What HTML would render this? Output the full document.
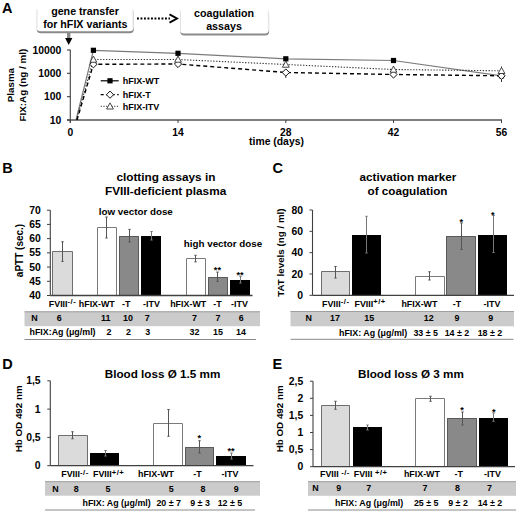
<!DOCTYPE html>
<html><head><meta charset="utf-8"><style>
html,body{margin:0;padding:0;background:#fff;}
svg{display:block;font-family:"Liberation Sans", sans-serif;}
text.t{}
</style></head><body>
<svg width="520" height="513" viewBox="0 0 520 513">
<defs><filter id="blur" x="-10%" y="-20%" width="120%" height="150%"><feGaussianBlur stdDeviation="0.6"/></filter></defs>
<rect width="520" height="513" fill="#fff"/>
<text x="2" y="13.2" font-size="14.5" text-anchor="start" font-weight="bold" fill="#000" >A</text>
<rect x="36.8" y="9" width="97.0" height="24.2" rx="4" fill="#8a8a8a" filter="url(#blur)"/>
<rect x="36.5" y="7" width="97.0" height="24.2" rx="4" fill="#fff"/>
<line x1="37.0" y1="9" x2="37.0" y2="28.2" stroke="#e2e2e2" stroke-width="1" />
<line x1="133.0" y1="9" x2="133.0" y2="28.2" stroke="#e6e6e6" stroke-width="1" />
<rect x="180.3" y="10.5" width="88.80000000000001" height="25.1" rx="4" fill="#8a8a8a" filter="url(#blur)"/>
<rect x="180" y="8.5" width="88.80000000000001" height="25.1" rx="4" fill="#fff"/>
<line x1="180.5" y1="10.5" x2="180.5" y2="30.6" stroke="#e2e2e2" stroke-width="1" />
<line x1="268.3" y1="10.5" x2="268.3" y2="30.6" stroke="#e6e6e6" stroke-width="1" />
<text x="85" y="14.9" font-size="10.7" text-anchor="middle" font-weight="bold" fill="#000" >gene transfer</text>
<text x="85.3" y="27.5" font-size="10.7" text-anchor="middle" font-weight="bold" fill="#000" >for hFIX variants</text>
<text x="224" y="16.9" font-size="10.7" text-anchor="middle" font-weight="bold" fill="#000" >coagulation</text>
<text x="224" y="29.8" font-size="10.7" text-anchor="middle" font-weight="bold" fill="#000" >assays</text>
<line x1="137" y1="18.5" x2="170" y2="18.5" stroke="#000" stroke-width="2" stroke-dasharray="1.9 1.6"/>
<polyline points="169.5,14.3 177,18.5 169.5,22.7" fill="none" stroke="#000" stroke-width="1.9"/>
<rect x="67.0" y="32.3" width="3.4" height="6" fill="#8a8a8a" stroke="none" stroke-width="1" />
<polygon points="65.1,38 72.4,38 68.7,45" fill="#000"/>
<line x1="70.3" y1="49.8" x2="70.3" y2="123" stroke="#404040" stroke-width="1.1" />
<line x1="67" y1="120" x2="502" y2="120" stroke="#555" stroke-width="1.3" />
<line x1="67" y1="120" x2="70.3" y2="120" stroke="#404040" stroke-width="1.1" />
<text x="61.3" y="123.8" font-size="10.4" text-anchor="end" font-weight="bold" fill="#000" >10</text>
<line x1="67" y1="96.67" x2="70.3" y2="96.67" stroke="#404040" stroke-width="1.1" />
<text x="61.3" y="100.47" font-size="10.4" text-anchor="end" font-weight="bold" fill="#000" >100</text>
<line x1="67" y1="73.33" x2="70.3" y2="73.33" stroke="#404040" stroke-width="1.1" />
<text x="61.3" y="77.13" font-size="10.4" text-anchor="end" font-weight="bold" fill="#000" >1000</text>
<line x1="67" y1="50" x2="70.3" y2="50" stroke="#404040" stroke-width="1.1" />
<text x="61.3" y="53.8" font-size="10.4" text-anchor="end" font-weight="bold" fill="#000" >10000</text>
<line x1="70.3" y1="120" x2="70.3" y2="123" stroke="#404040" stroke-width="1" />
<text x="70.3" y="135.9" font-size="10.3" text-anchor="middle" font-weight="bold" fill="#000" >0</text>
<line x1="178" y1="120" x2="178" y2="123" stroke="#404040" stroke-width="1" />
<text x="178" y="135.9" font-size="10.3" text-anchor="middle" font-weight="bold" fill="#000" >14</text>
<line x1="285.8" y1="120" x2="285.8" y2="123" stroke="#404040" stroke-width="1" />
<text x="285.8" y="135.9" font-size="10.3" text-anchor="middle" font-weight="bold" fill="#000" >28</text>
<line x1="393.5" y1="120" x2="393.5" y2="123" stroke="#404040" stroke-width="1" />
<text x="393.5" y="135.9" font-size="10.3" text-anchor="middle" font-weight="bold" fill="#000" >42</text>
<line x1="501.5" y1="120" x2="501.5" y2="123" stroke="#404040" stroke-width="1" />
<text x="501.5" y="135.9" font-size="10.3" text-anchor="middle" font-weight="bold" fill="#000" >56</text>
<text x="276.5" y="145.3" font-size="10.4" text-anchor="middle" font-weight="bold" fill="#000" >time (days)</text>
<text transform="translate(13.9,85.1) rotate(-90)" font-size="9.8" font-weight="bold" text-anchor="middle">Plasma</text>
<text transform="translate(25.8,85.1) rotate(-90)" font-size="9.9" font-weight="bold" text-anchor="middle">FIX:Ag (ng / ml)</text>
<polyline points="76,120 93.4,50.3 178,53.3 285.8,58.8 393.5,60.5 501.5,75.8" fill="none" stroke="#7a7a7a" stroke-width="1.2"/>
<polyline points="76.5,120 93.4,59.5 178,59.5 285.8,64.5 393.5,69.5 501.5,70.8" fill="none" stroke="#333" stroke-width="1.1" stroke-dasharray="1.3 1.6"/>
<polyline points="77,120 93.4,64.3 178,64.0 285.8,72.5 393.5,74.5 501.5,75.8" fill="none" stroke="#000" stroke-width="1.4" stroke-dasharray="4 3"/>
<line x1="501.5" y1="66.5" x2="501.5" y2="71" stroke="#333" stroke-width="1" />
<line x1="501.5" y1="76" x2="501.5" y2="82" stroke="#333" stroke-width="1" />
<line x1="285.8" y1="72" x2="285.8" y2="78" stroke="#333" stroke-width="1" />
<line x1="393.5" y1="66" x2="393.5" y2="70" stroke="#333" stroke-width="1" />
<line x1="178" y1="56" x2="178" y2="60" stroke="#333" stroke-width="1" />
<rect x="90.80000000000001" y="47.699999999999996" width="5.2" height="5.2" fill="#000" stroke="none" stroke-width="1" />
<rect x="175.4" y="50.699999999999996" width="5.2" height="5.2" fill="#000" stroke="none" stroke-width="1" />
<rect x="283.2" y="56.199999999999996" width="5.2" height="5.2" fill="#000" stroke="none" stroke-width="1" />
<rect x="390.9" y="57.9" width="5.2" height="5.2" fill="#000" stroke="none" stroke-width="1" />
<rect x="498.9" y="73.2" width="5.2" height="5.2" fill="#000" stroke="none" stroke-width="1" />
<polygon points="93.4,60.699999999999996 97.0,64.3 93.4,67.89999999999999 89.80000000000001,64.3" fill="#fff" stroke="#111" stroke-width="1"/>
<polygon points="178,60.4 181.6,64.0 178,67.6 174.4,64.0" fill="#fff" stroke="#111" stroke-width="1"/>
<polygon points="285.8,68.9 289.40000000000003,72.5 285.8,76.1 282.2,72.5" fill="#fff" stroke="#111" stroke-width="1"/>
<polygon points="393.5,70.9 397.1,74.5 393.5,78.1 389.9,74.5" fill="#fff" stroke="#111" stroke-width="1"/>
<polygon points="501.5,72.2 505.1,75.8 501.5,79.39999999999999 497.9,75.8" fill="#fff" stroke="#111" stroke-width="1"/>
<polygon points="93.4,56.1 96.80000000000001,62.22 90.0,62.22" fill="#fff" stroke="#333" stroke-width="0.9"/>
<polygon points="178,56.1 181.4,62.22 174.6,62.22" fill="#fff" stroke="#333" stroke-width="0.9"/>
<polygon points="285.8,61.1 289.2,67.22 282.40000000000003,67.22" fill="#fff" stroke="#333" stroke-width="0.9"/>
<polygon points="393.5,66.1 396.9,72.22 390.1,72.22" fill="#fff" stroke="#333" stroke-width="0.9"/>
<polygon points="501.5,67.39999999999999 504.9,73.52 498.1,73.52" fill="#fff" stroke="#333" stroke-width="0.9"/>
<line x1="100.7" y1="80.8" x2="118.7" y2="80.8" stroke="#000" stroke-width="1.2" />
<rect x="107.4" y="78.2" width="5.2" height="5.2" fill="#000" stroke="none" stroke-width="1" />
<line x1="100.7" y1="94.7" x2="118.7" y2="94.7" stroke="#000" stroke-width="1.2" stroke-dasharray="3 2.5"/>
<polygon points="110,91.10000000000001 113.6,94.7 110,98.3 106.4,94.7" fill="#fff" stroke="#111" stroke-width="1"/>
<line x1="100.7" y1="106.3" x2="118.7" y2="106.3" stroke="#333" stroke-width="1" stroke-dasharray="1.2 1.5"/>
<polygon points="110,102.89999999999999 113.4,109.02 106.6,109.02" fill="#fff" stroke="#333" stroke-width="0.9"/>
<text x="122.7" y="84.4" font-size="9" text-anchor="start" font-weight="bold" fill="#000" >hFIX-WT</text>
<text x="122.7" y="98.3" font-size="9" text-anchor="start" font-weight="bold" fill="#000" >hFIX-T</text>
<text x="122.7" y="109.9" font-size="9" text-anchor="start" font-weight="bold" fill="#000" >hFIX-ITV</text>
<text x="2.3" y="173.2" font-size="14.5" text-anchor="start" font-weight="bold" fill="#000" >B</text>
<text class="t" x="165.9" y="181.1" font-size="11.8" text-anchor="middle" font-weight="bold" fill="#000" >clotting assays in</text>
<text class="t" x="165.6" y="195.4" font-size="11.8" text-anchor="middle" font-weight="bold" fill="#000" >FVIII-deficient plasma</text>
<line x1="50.3" y1="210.2" x2="50.3" y2="295.5" stroke="#404040" stroke-width="1.1" />
<line x1="47" y1="295.5" x2="50.3" y2="295.5" stroke="#404040" stroke-width="1" />
<text x="40.8" y="299.1" font-size="10.4" text-anchor="end" font-weight="bold" fill="#000" >40</text>
<line x1="47" y1="281.2833333333333" x2="50.3" y2="281.2833333333333" stroke="#404040" stroke-width="1" />
<text x="40.8" y="284.8833333333333" font-size="10.4" text-anchor="end" font-weight="bold" fill="#000" >45</text>
<line x1="47" y1="267.06666666666666" x2="50.3" y2="267.06666666666666" stroke="#404040" stroke-width="1" />
<text x="40.8" y="270.6666666666667" font-size="10.4" text-anchor="end" font-weight="bold" fill="#000" >50</text>
<line x1="47" y1="252.85" x2="50.3" y2="252.85" stroke="#404040" stroke-width="1" />
<text x="40.8" y="256.45" font-size="10.4" text-anchor="end" font-weight="bold" fill="#000" >55</text>
<line x1="47" y1="238.63333333333333" x2="50.3" y2="238.63333333333333" stroke="#404040" stroke-width="1" />
<text x="40.8" y="242.23333333333332" font-size="10.4" text-anchor="end" font-weight="bold" fill="#000" >60</text>
<line x1="47" y1="224.41666666666666" x2="50.3" y2="224.41666666666666" stroke="#404040" stroke-width="1" />
<text x="40.8" y="228.01666666666665" font-size="10.4" text-anchor="end" font-weight="bold" fill="#000" >65</text>
<line x1="47" y1="210.2" x2="50.3" y2="210.2" stroke="#404040" stroke-width="1" />
<text x="40.8" y="213.79999999999998" font-size="10.4" text-anchor="end" font-weight="bold" fill="#000" >70</text>
<text transform="translate(23.4,250.5) rotate(-90)" font-size="10" font-weight="bold" text-anchor="middle">aPTT (sec.)</text>
<rect x="52" y="251" width="21" height="44.5" fill="#dbdbdb" stroke="none" stroke-width="1" />
<path d="M52.5,295.5 V251.5 H72.5 V295.5" fill="none" stroke="#6e6e6e" stroke-width="1"/>
<line x1="62.5" y1="241.75" x2="62.5" y2="261.4" stroke="#555" stroke-width="1" />
<line x1="61.3" y1="241.75" x2="63.7" y2="241.75" stroke="#555" stroke-width="1" />
<line x1="61.3" y1="261.4" x2="63.7" y2="261.4" stroke="#555" stroke-width="1" />
<rect x="97" y="227" width="20" height="68.5" fill="#fff" stroke="none" stroke-width="1" />
<path d="M97.5,295.5 V227.5 H116.5 V295.5" fill="none" stroke="#7a7a7a" stroke-width="1"/>
<line x1="106.5" y1="217" x2="106.5" y2="238" stroke="#555" stroke-width="1" />
<line x1="105.3" y1="217" x2="107.7" y2="217" stroke="#555" stroke-width="1" />
<line x1="105.3" y1="238" x2="107.7" y2="238" stroke="#555" stroke-width="1" />
<rect x="119" y="236" width="20" height="59.5" fill="#898989" stroke="none" stroke-width="1" />
<path d="M119.5,295.5 V236.5 H138.5 V295.5" fill="none" stroke="#5a5a5a" stroke-width="1"/>
<line x1="129.5" y1="229.4" x2="129.5" y2="242" stroke="#555" stroke-width="1" />
<line x1="128.3" y1="229.4" x2="130.7" y2="229.4" stroke="#555" stroke-width="1" />
<line x1="128.3" y1="242" x2="130.7" y2="242" stroke="#555" stroke-width="1" />
<rect x="141" y="236" width="20" height="59.5" fill="#000" stroke="none" stroke-width="1" />
<line x1="151.5" y1="231.5" x2="151.5" y2="240" stroke="#777" stroke-width="1" />
<line x1="150.3" y1="231.5" x2="152.7" y2="231.5" stroke="#777" stroke-width="1" />
<line x1="150.3" y1="240" x2="152.7" y2="240" stroke="#777" stroke-width="1" />
<rect x="186" y="258" width="20" height="37.5" fill="#fff" stroke="none" stroke-width="1" />
<path d="M186.5,295.5 V258.5 H205.5 V295.5" fill="none" stroke="#7a7a7a" stroke-width="1"/>
<line x1="195.5" y1="255.3" x2="195.5" y2="261.9" stroke="#555" stroke-width="1" />
<line x1="194.3" y1="255.3" x2="196.7" y2="255.3" stroke="#555" stroke-width="1" />
<line x1="194.3" y1="261.9" x2="196.7" y2="261.9" stroke="#555" stroke-width="1" />
<rect x="208" y="277" width="20" height="18.5" fill="#898989" stroke="none" stroke-width="1" />
<path d="M208.5,295.5 V277.5 H227.5 V295.5" fill="none" stroke="#5a5a5a" stroke-width="1"/>
<line x1="217.5" y1="272.1" x2="217.5" y2="281.3" stroke="#555" stroke-width="1" />
<line x1="216.3" y1="272.1" x2="218.7" y2="272.1" stroke="#555" stroke-width="1" />
<line x1="216.3" y1="281.3" x2="218.7" y2="281.3" stroke="#555" stroke-width="1" />
<rect x="230" y="280" width="20" height="15.5" fill="#000" stroke="none" stroke-width="1" />
<line x1="240.5" y1="276.4" x2="240.5" y2="283" stroke="#777" stroke-width="1" />
<line x1="239.3" y1="276.4" x2="241.7" y2="276.4" stroke="#777" stroke-width="1" />
<line x1="239.3" y1="283" x2="241.7" y2="283" stroke="#777" stroke-width="1" />
<text x="217.4" y="273.0" font-size="9.2" text-anchor="middle" font-weight="bold" fill="#000" >**</text>
<text x="240" y="277.5" font-size="9.2" text-anchor="middle" font-weight="bold" fill="#000" >**</text>
<line x1="50.3" y1="295.5" x2="252.5" y2="295.5" stroke="#404040" stroke-width="1.3" />
<text x="98.75" y="214.5" font-size="9.8" text-anchor="start" font-weight="bold" fill="#000" >low vector dose</text>
<text x="183.8" y="246.8" font-size="9.8" text-anchor="start" font-weight="bold" fill="#000" >high vector dose</text>
<text x="48.8" y="306.8" font-size="8.9" font-weight="bold">FVIII<tspan dy="-2.6" font-size="7.6" letter-spacing="0.5">-/-</tspan></text>
<text x="96.8" y="306.8" font-size="8.9" text-anchor="middle" font-weight="bold" fill="#000" >hFIX-WT</text>
<text x="126.2" y="306.8" font-size="8.9" text-anchor="middle" font-weight="bold" fill="#000" >-T</text>
<text x="151.5" y="306.8" font-size="8.9" text-anchor="middle" font-weight="bold" fill="#000" >-ITV</text>
<text x="188.2" y="306.8" font-size="8.9" text-anchor="middle" font-weight="bold" fill="#000" >hFIX-WT</text>
<text x="217.5" y="306.8" font-size="8.9" text-anchor="middle" font-weight="bold" fill="#000" >-T</text>
<text x="239.5" y="306.8" font-size="8.9" text-anchor="middle" font-weight="bold" fill="#000" >-ITV</text>
<rect x="24.5" y="311.3" width="235.5" height="14.9" fill="#cbcbcb" stroke="none" stroke-width="1" />
<line x1="24.5" y1="311.8" x2="260" y2="311.8" stroke="#a0a0a0" stroke-width="1" />
<text x="34.5" y="321.2" font-size="8.9" text-anchor="middle" font-weight="bold" fill="#000" >N</text>
<text x="59.3" y="321.2" font-size="8.9" text-anchor="middle" font-weight="bold" fill="#000" >6</text>
<text x="105.8" y="321.2" font-size="8.9" text-anchor="middle" font-weight="bold" fill="#000" >11</text>
<text x="127.9" y="321.2" font-size="8.9" text-anchor="middle" font-weight="bold" fill="#000" >10</text>
<text x="147.1" y="321.2" font-size="8.9" text-anchor="middle" font-weight="bold" fill="#000" >7</text>
<text x="194.5" y="321.2" font-size="8.9" text-anchor="middle" font-weight="bold" fill="#000" >7</text>
<text x="218" y="321.2" font-size="8.9" text-anchor="middle" font-weight="bold" fill="#000" >7</text>
<text x="241.25" y="321.2" font-size="8.9" text-anchor="middle" font-weight="bold" fill="#000" >6</text>
<text x="29.5" y="335.1" font-size="8.9" text-anchor="start" font-weight="bold" fill="#000" >hFIX:Ag (μg/ml)</text>
<text x="109" y="335.1" font-size="8.9" text-anchor="middle" font-weight="bold" fill="#000" >2</text>
<text x="128.5" y="335.1" font-size="8.9" text-anchor="middle" font-weight="bold" fill="#000" >2</text>
<text x="147.8" y="335.1" font-size="8.9" text-anchor="middle" font-weight="bold" fill="#000" >3</text>
<text x="194.5" y="335.1" font-size="8.9" text-anchor="middle" font-weight="bold" fill="#000" >32</text>
<text x="218" y="335.1" font-size="8.9" text-anchor="middle" font-weight="bold" fill="#000" >15</text>
<text x="241" y="335.1" font-size="8.9" text-anchor="middle" font-weight="bold" fill="#000" >14</text>
<line x1="24.5" y1="339.5" x2="256" y2="339.5" stroke="#8a8a8a" stroke-width="1" />
<text x="272.5" y="173.2" font-size="14.5" text-anchor="start" font-weight="bold" fill="#000" >C</text>
<text class="t" x="407.9" y="181.1" font-size="11.7" text-anchor="middle" font-weight="bold" fill="#000" >activation marker</text>
<text class="t" x="407.5" y="195.4" font-size="11.7" text-anchor="middle" font-weight="bold" fill="#000" >of coagulation</text>
<line x1="312.5" y1="210" x2="312.5" y2="295.3" stroke="#404040" stroke-width="1.1" />
<line x1="309.5" y1="295.3" x2="312.5" y2="295.3" stroke="#404040" stroke-width="1" />
<text x="303" y="298.90000000000003" font-size="10.4" text-anchor="end" font-weight="bold" fill="#000" >0</text>
<line x1="309.5" y1="273.975" x2="312.5" y2="273.975" stroke="#404040" stroke-width="1" />
<text x="303" y="277.57500000000005" font-size="10.4" text-anchor="end" font-weight="bold" fill="#000" >20</text>
<line x1="309.5" y1="252.65" x2="312.5" y2="252.65" stroke="#404040" stroke-width="1" />
<text x="303" y="256.25" font-size="10.4" text-anchor="end" font-weight="bold" fill="#000" >40</text>
<line x1="309.5" y1="231.325" x2="312.5" y2="231.325" stroke="#404040" stroke-width="1" />
<text x="303" y="234.92499999999998" font-size="10.4" text-anchor="end" font-weight="bold" fill="#000" >60</text>
<line x1="309.5" y1="210.0" x2="312.5" y2="210.0" stroke="#404040" stroke-width="1" />
<text x="303" y="213.6" font-size="10.4" text-anchor="end" font-weight="bold" fill="#000" >80</text>
<text transform="translate(284.1,252.6) rotate(-90)" font-size="9.8" font-weight="bold" text-anchor="middle">TAT levels (ng / ml)</text>
<rect x="321" y="271" width="29" height="24.30000000000001" fill="#dbdbdb" stroke="none" stroke-width="1" />
<path d="M321.5,295.3 V271.5 H349.5 V295.3" fill="none" stroke="#6e6e6e" stroke-width="1"/>
<line x1="335.5" y1="266.5" x2="335.5" y2="278" stroke="#555" stroke-width="1" />
<line x1="334.3" y1="266.5" x2="336.7" y2="266.5" stroke="#555" stroke-width="1" />
<line x1="334.3" y1="278" x2="336.7" y2="278" stroke="#555" stroke-width="1" />
<rect x="352" y="235" width="29" height="60.30000000000001" fill="#000" stroke="none" stroke-width="1" />
<line x1="366.5" y1="216.3" x2="366.5" y2="253" stroke="#777" stroke-width="1" />
<line x1="365.3" y1="216.3" x2="367.7" y2="216.3" stroke="#777" stroke-width="1" />
<line x1="365.3" y1="253" x2="367.7" y2="253" stroke="#777" stroke-width="1" />
<rect x="415" y="276" width="30" height="19.30000000000001" fill="#fff" stroke="none" stroke-width="1" />
<path d="M415.5,295.3 V276.5 H444.5 V295.3" fill="none" stroke="#7a7a7a" stroke-width="1"/>
<line x1="429.5" y1="271.75" x2="429.5" y2="280" stroke="#555" stroke-width="1" />
<line x1="428.3" y1="271.75" x2="430.7" y2="271.75" stroke="#555" stroke-width="1" />
<line x1="428.3" y1="280" x2="430.7" y2="280" stroke="#555" stroke-width="1" />
<rect x="446" y="236" width="30" height="59.30000000000001" fill="#898989" stroke="none" stroke-width="1" />
<path d="M446.5,295.3 V236.5 H475.5 V295.3" fill="none" stroke="#5a5a5a" stroke-width="1"/>
<line x1="461.5" y1="223" x2="461.5" y2="249.5" stroke="#555" stroke-width="1" />
<line x1="460.3" y1="223" x2="462.7" y2="223" stroke="#555" stroke-width="1" />
<line x1="460.3" y1="249.5" x2="462.7" y2="249.5" stroke="#555" stroke-width="1" />
<rect x="478" y="235" width="29" height="60.30000000000001" fill="#000" stroke="none" stroke-width="1" />
<line x1="493.5" y1="215.5" x2="493.5" y2="252.5" stroke="#777" stroke-width="1" />
<line x1="492.3" y1="215.5" x2="494.7" y2="215.5" stroke="#777" stroke-width="1" />
<line x1="492.3" y1="252.5" x2="494.7" y2="252.5" stroke="#777" stroke-width="1" />
<text x="461.4" y="224.5" font-size="9.2" text-anchor="middle" font-weight="bold" fill="#000" >*</text>
<text x="492.8" y="218.0" font-size="9.2" text-anchor="middle" font-weight="bold" fill="#000" >*</text>
<line x1="312.5" y1="295.3" x2="514" y2="295.3" stroke="#404040" stroke-width="1.3" />
<text x="322" y="306.8" font-size="8.9" font-weight="bold">FVIII<tspan dy="-2.6" font-size="7.6" letter-spacing="0.5">-/-</tspan></text>
<text x="354.5" y="306.8" font-size="8.9" font-weight="bold">FVIII<tspan dy="-2.6" font-size="7.6" letter-spacing="0.5">+/+</tspan></text>
<text x="419.4" y="306.8" font-size="8.9" text-anchor="middle" font-weight="bold" fill="#000" >hFIX-WT</text>
<text x="457" y="306.8" font-size="8.9" text-anchor="middle" font-weight="bold" fill="#000" >-T</text>
<text x="492" y="306.8" font-size="8.9" text-anchor="middle" font-weight="bold" fill="#000" >-ITV</text>
<rect x="290.5" y="311" width="223.5" height="15.3" fill="#cbcbcb" stroke="none" stroke-width="1" />
<line x1="290.5" y1="311.5" x2="514" y2="311.5" stroke="#a0a0a0" stroke-width="1" />
<text x="308.75" y="321.3" font-size="8.9" text-anchor="middle" font-weight="bold" fill="#000" >N</text>
<text x="335" y="321.3" font-size="8.9" text-anchor="middle" font-weight="bold" fill="#000" >17</text>
<text x="369.25" y="321.3" font-size="8.9" text-anchor="middle" font-weight="bold" fill="#000" >15</text>
<text x="428.75" y="321.3" font-size="8.9" text-anchor="middle" font-weight="bold" fill="#000" >12</text>
<text x="457" y="321.3" font-size="8.9" text-anchor="middle" font-weight="bold" fill="#000" >9</text>
<text x="490.75" y="321.3" font-size="8.9" text-anchor="middle" font-weight="bold" fill="#000" >9</text>
<text x="339" y="335.7" font-size="8.9" text-anchor="start" font-weight="bold" fill="#000" >hFIX: Ag (μg/ml)</text>
<text x="425.75" y="335.6" font-size="8.9" text-anchor="middle" font-weight="bold" fill="#000" >33 ± 5</text>
<text x="457" y="335.6" font-size="8.9" text-anchor="middle" font-weight="bold" fill="#000" >14 ± 2</text>
<text x="490" y="335.6" font-size="8.9" text-anchor="middle" font-weight="bold" fill="#000" >18 ± 2</text>
<line x1="290.5" y1="339.3" x2="513.5" y2="339.3" stroke="#8a8a8a" stroke-width="1" />
<text x="2.3" y="368.8" font-size="14.5" text-anchor="start" font-weight="bold" fill="#000" >D</text>
<text class="t" x="162.5" y="377.5" font-size="11.7" text-anchor="middle" font-weight="bold" fill="#000" >Blood loss Ø 1.5 mm</text>
<line x1="50.3" y1="380.8" x2="50.3" y2="465.7" stroke="#404040" stroke-width="1.1" />
<line x1="47.3" y1="465.7" x2="50.3" y2="465.7" stroke="#404040" stroke-width="1" />
<text x="40.6" y="469.3" font-size="10.4" text-anchor="end" font-weight="bold" fill="#000" >0</text>
<line x1="47.3" y1="437.4" x2="50.3" y2="437.4" stroke="#404040" stroke-width="1" />
<text x="40.6" y="441.0" font-size="10.4" text-anchor="end" font-weight="bold" fill="#000" >0,5</text>
<line x1="47.3" y1="409.1" x2="50.3" y2="409.1" stroke="#404040" stroke-width="1" />
<text x="40.6" y="412.70000000000005" font-size="10.4" text-anchor="end" font-weight="bold" fill="#000" >1</text>
<line x1="47.3" y1="380.8" x2="50.3" y2="380.8" stroke="#404040" stroke-width="1" />
<text x="40.6" y="384.40000000000003" font-size="10.4" text-anchor="end" font-weight="bold" fill="#000" >1,5</text>
<text transform="translate(22.2,418.8) rotate(-90)" font-size="9.8" font-weight="bold" text-anchor="middle">Hb OD 492 nm</text>
<rect x="58" y="435" width="30" height="30.69999999999999" fill="#dbdbdb" stroke="none" stroke-width="1" />
<path d="M58.5,465.7 V435.5 H87.5 V465.7" fill="none" stroke="#6e6e6e" stroke-width="1"/>
<line x1="72.5" y1="431.75" x2="72.5" y2="438.75" stroke="#555" stroke-width="1" />
<line x1="71.3" y1="431.75" x2="73.7" y2="431.75" stroke="#555" stroke-width="1" />
<line x1="71.3" y1="438.75" x2="73.7" y2="438.75" stroke="#555" stroke-width="1" />
<rect x="90" y="453" width="29" height="12.699999999999989" fill="#000" stroke="none" stroke-width="1" />
<line x1="105.5" y1="450.5" x2="105.5" y2="456" stroke="#777" stroke-width="1" />
<line x1="104.3" y1="450.5" x2="106.7" y2="450.5" stroke="#777" stroke-width="1" />
<line x1="104.3" y1="456" x2="106.7" y2="456" stroke="#777" stroke-width="1" />
<rect x="153" y="423" width="30" height="42.69999999999999" fill="#fff" stroke="none" stroke-width="1" />
<path d="M153.5,465.7 V423.5 H182.5 V465.7" fill="none" stroke="#7a7a7a" stroke-width="1"/>
<line x1="168.5" y1="409.5" x2="168.5" y2="436.25" stroke="#555" stroke-width="1" />
<line x1="167.3" y1="409.5" x2="169.7" y2="409.5" stroke="#555" stroke-width="1" />
<line x1="167.3" y1="436.25" x2="169.7" y2="436.25" stroke="#555" stroke-width="1" />
<rect x="185" y="447" width="29" height="18.69999999999999" fill="#898989" stroke="none" stroke-width="1" />
<path d="M185.5,465.7 V447.5 H213.5 V465.7" fill="none" stroke="#5a5a5a" stroke-width="1"/>
<line x1="199.5" y1="440.75" x2="199.5" y2="453" stroke="#555" stroke-width="1" />
<line x1="198.3" y1="440.75" x2="200.7" y2="440.75" stroke="#555" stroke-width="1" />
<line x1="198.3" y1="453" x2="200.7" y2="453" stroke="#555" stroke-width="1" />
<rect x="216" y="456" width="30" height="9.699999999999989" fill="#000" stroke="none" stroke-width="1" />
<line x1="231.5" y1="453" x2="231.5" y2="459" stroke="#777" stroke-width="1" />
<line x1="230.3" y1="453" x2="232.7" y2="453" stroke="#777" stroke-width="1" />
<line x1="230.3" y1="459" x2="232.7" y2="459" stroke="#777" stroke-width="1" />
<text x="199.4" y="441.3" font-size="9.2" text-anchor="middle" font-weight="bold" fill="#000" >*</text>
<text x="231.1" y="454.0" font-size="9.2" text-anchor="middle" font-weight="bold" fill="#000" >**</text>
<line x1="50.3" y1="465.7" x2="253.5" y2="465.7" stroke="#404040" stroke-width="1.3" />
<text x="61.25" y="477.3" font-size="8.9" font-weight="bold">FVIII<tspan dy="-2.6" font-size="7.6" letter-spacing="0.5">-/-</tspan></text>
<text x="93" y="477.3" font-size="8.9" font-weight="bold">FVIII<tspan dy="-2.6" font-size="7.6" letter-spacing="0.5">+/+</tspan></text>
<text x="156" y="477.3" font-size="8.9" text-anchor="middle" font-weight="bold" fill="#000" >hFIX-WT</text>
<text x="197.5" y="477.3" font-size="8.9" text-anchor="middle" font-weight="bold" fill="#000" >-T</text>
<text x="230" y="477.3" font-size="8.9" text-anchor="middle" font-weight="bold" fill="#000" >-ITV</text>
<rect x="45" y="481.2" width="215" height="14.5" fill="#cbcbcb" stroke="none" stroke-width="1" />
<line x1="45" y1="481.7" x2="260" y2="481.7" stroke="#a0a0a0" stroke-width="1" />
<text x="55.5" y="491.6" font-size="8.9" text-anchor="middle" font-weight="bold" fill="#000" >N</text>
<text x="76.25" y="491.6" font-size="8.9" text-anchor="middle" font-weight="bold" fill="#000" >8</text>
<text x="108" y="491.6" font-size="8.9" text-anchor="middle" font-weight="bold" fill="#000" >5</text>
<text x="171.25" y="491.6" font-size="8.9" text-anchor="middle" font-weight="bold" fill="#000" >5</text>
<text x="203" y="491.6" font-size="8.9" text-anchor="middle" font-weight="bold" fill="#000" >8</text>
<text x="236.25" y="491.6" font-size="8.9" text-anchor="middle" font-weight="bold" fill="#000" >9</text>
<text x="82.5" y="505.8" font-size="8.9" text-anchor="start" font-weight="bold" fill="#000" >hFIX: Ag (μg/ml)</text>
<text x="168.75" y="505.8" font-size="8.9" text-anchor="middle" font-weight="bold" fill="#000" >20 ± 7</text>
<text x="200" y="505.8" font-size="8.9" text-anchor="middle" font-weight="bold" fill="#000" >9 ± 3</text>
<text x="230" y="505.8" font-size="8.9" text-anchor="middle" font-weight="bold" fill="#000" >12 ± 5</text>
<line x1="45" y1="510" x2="255" y2="510" stroke="#8a8a8a" stroke-width="1" />
<text x="272.5" y="368.8" font-size="14.5" text-anchor="start" font-weight="bold" fill="#000" >E</text>
<text class="t" x="410.9" y="377.5" font-size="11.7" text-anchor="middle" font-weight="bold" fill="#000" >Blood loss Ø 3 mm</text>
<line x1="313" y1="381.2" x2="313" y2="466.7" stroke="#404040" stroke-width="1.1" />
<line x1="310" y1="466.7" x2="313" y2="466.7" stroke="#404040" stroke-width="1" />
<text x="303.3" y="470.3" font-size="10.4" text-anchor="end" font-weight="bold" fill="#000" >0</text>
<line x1="310" y1="449.59999999999997" x2="313" y2="449.59999999999997" stroke="#404040" stroke-width="1" />
<text x="303.3" y="453.2" font-size="10.4" text-anchor="end" font-weight="bold" fill="#000" >0,5</text>
<line x1="310" y1="432.5" x2="313" y2="432.5" stroke="#404040" stroke-width="1" />
<text x="303.3" y="436.1" font-size="10.4" text-anchor="end" font-weight="bold" fill="#000" >1</text>
<line x1="310" y1="415.4" x2="313" y2="415.4" stroke="#404040" stroke-width="1" />
<text x="303.3" y="419.0" font-size="10.4" text-anchor="end" font-weight="bold" fill="#000" >1,5</text>
<line x1="310" y1="398.29999999999995" x2="313" y2="398.29999999999995" stroke="#404040" stroke-width="1" />
<text x="303.3" y="401.9" font-size="10.4" text-anchor="end" font-weight="bold" fill="#000" >2</text>
<line x1="310" y1="381.2" x2="313" y2="381.2" stroke="#404040" stroke-width="1" />
<text x="303.3" y="384.8" font-size="10.4" text-anchor="end" font-weight="bold" fill="#000" >2,5</text>
<text transform="translate(282.7,418.8) rotate(-90)" font-size="9.8" font-weight="bold" text-anchor="middle">Hb OD 492 nm</text>
<rect x="321" y="405" width="29" height="61.69999999999999" fill="#dbdbdb" stroke="none" stroke-width="1" />
<path d="M321.5,466.7 V405.5 H349.5 V466.7" fill="none" stroke="#6e6e6e" stroke-width="1"/>
<line x1="335.5" y1="401.25" x2="335.5" y2="409.25" stroke="#555" stroke-width="1" />
<line x1="334.3" y1="401.25" x2="336.7" y2="401.25" stroke="#555" stroke-width="1" />
<line x1="334.3" y1="409.25" x2="336.7" y2="409.25" stroke="#555" stroke-width="1" />
<rect x="353" y="427" width="29" height="39.69999999999999" fill="#000" stroke="none" stroke-width="1" />
<line x1="367.5" y1="425" x2="367.5" y2="430" stroke="#777" stroke-width="1" />
<line x1="366.3" y1="425" x2="368.7" y2="425" stroke="#777" stroke-width="1" />
<line x1="366.3" y1="430" x2="368.7" y2="430" stroke="#777" stroke-width="1" />
<rect x="415" y="398" width="30" height="68.69999999999999" fill="#fff" stroke="none" stroke-width="1" />
<path d="M415.5,466.7 V398.5 H444.5 V466.7" fill="none" stroke="#7a7a7a" stroke-width="1"/>
<line x1="430.5" y1="396.25" x2="430.5" y2="401.25" stroke="#555" stroke-width="1" />
<line x1="429.3" y1="396.25" x2="431.7" y2="396.25" stroke="#555" stroke-width="1" />
<line x1="429.3" y1="401.25" x2="431.7" y2="401.25" stroke="#555" stroke-width="1" />
<rect x="447" y="418" width="30" height="48.69999999999999" fill="#898989" stroke="none" stroke-width="1" />
<path d="M447.5,466.7 V418.5 H476.5 V466.7" fill="none" stroke="#5a5a5a" stroke-width="1"/>
<line x1="462.5" y1="412" x2="462.5" y2="425" stroke="#555" stroke-width="1" />
<line x1="461.3" y1="412" x2="463.7" y2="412" stroke="#555" stroke-width="1" />
<line x1="461.3" y1="425" x2="463.7" y2="425" stroke="#555" stroke-width="1" />
<rect x="479" y="418" width="29" height="48.69999999999999" fill="#000" stroke="none" stroke-width="1" />
<line x1="493.5" y1="413" x2="493.5" y2="421.25" stroke="#777" stroke-width="1" />
<line x1="492.3" y1="413" x2="494.7" y2="413" stroke="#777" stroke-width="1" />
<line x1="492.3" y1="421.25" x2="494.7" y2="421.25" stroke="#777" stroke-width="1" />
<text x="462" y="412.5" font-size="9.2" text-anchor="middle" font-weight="bold" fill="#000" >*</text>
<text x="493.75" y="414.5" font-size="9.2" text-anchor="middle" font-weight="bold" fill="#000" >*</text>
<line x1="313" y1="466.7" x2="515" y2="466.7" stroke="#404040" stroke-width="1.3" />
<text x="320" y="477.3" font-size="8.9" font-weight="bold">FVIII <tspan dy="-2.6" font-size="7.6" letter-spacing="0.5">-/-</tspan></text>
<text x="353.75" y="477.3" font-size="8.9" font-weight="bold">FVIII <tspan dy="-2.6" font-size="7.6" letter-spacing="0.5">+/+</tspan></text>
<text x="421.9" y="477.3" font-size="8.9" text-anchor="middle" font-weight="bold" fill="#000" >hFIX-WT</text>
<text x="458.75" y="477.3" font-size="8.9" text-anchor="middle" font-weight="bold" fill="#000" >-T</text>
<text x="492.5" y="477.3" font-size="8.9" text-anchor="middle" font-weight="bold" fill="#000" >-ITV</text>
<rect x="308" y="481.2" width="208" height="14.6" fill="#cbcbcb" stroke="none" stroke-width="1" />
<line x1="308" y1="481.7" x2="516" y2="481.7" stroke="#a0a0a0" stroke-width="1" />
<text x="315.5" y="491.2" font-size="8.9" text-anchor="middle" font-weight="bold" fill="#000" >N</text>
<text x="338.75" y="491.2" font-size="8.9" text-anchor="middle" font-weight="bold" fill="#000" >9</text>
<text x="368.75" y="491.2" font-size="8.9" text-anchor="middle" font-weight="bold" fill="#000" >7</text>
<text x="425" y="491.2" font-size="8.9" text-anchor="middle" font-weight="bold" fill="#000" >7</text>
<text x="457.5" y="491.2" font-size="8.9" text-anchor="middle" font-weight="bold" fill="#000" >8</text>
<text x="489.5" y="491.2" font-size="8.9" text-anchor="middle" font-weight="bold" fill="#000" >7</text>
<text x="335" y="505.8" font-size="8.9" text-anchor="start" font-weight="bold" fill="#000" >hFIX: Ag (μg/ml)</text>
<text x="426.25" y="505.8" font-size="8.9" text-anchor="middle" font-weight="bold" fill="#000" >25 ± 5</text>
<text x="458" y="505.8" font-size="8.9" text-anchor="middle" font-weight="bold" fill="#000" >9 ± 2</text>
<text x="490" y="505.8" font-size="8.9" text-anchor="middle" font-weight="bold" fill="#000" >14 ± 2</text>
<line x1="308" y1="510" x2="516" y2="510" stroke="#8a8a8a" stroke-width="1" />
</svg>
</body></html>
